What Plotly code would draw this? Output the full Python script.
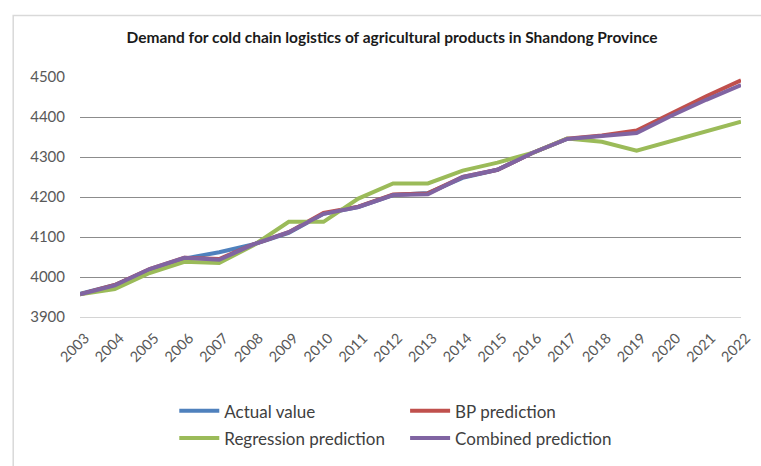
import plotly.graph_objects as go

years = [str(y) for y in range(2003, 2023)]

actual_value = [3958, 3980, 4018, 4046, 4062, 4082, 4110, 4158, 4175, 4205,
                4210, 4248, 4268, 4310, 4345]
bp_prediction = [3957, 3980, 4020, 4048, 4045, 4082, 4112, 4160, 4176, 4206,
                 4209, 4250, 4268, 4310, 4346, 4354, 4366, 4410, 4452, 4492]
regression_prediction = [3957, 3970, 4010, 4038, 4035, 4080, 4138, 4138, 4196, 4234,
                         4234, 4266, 4286, 4310, 4346, 4338, 4316, 4340, 4364, 4388]
combined_prediction = [3957, 3979, 4020, 4048, 4043, 4082, 4112, 4158, 4175, 4205,
                       4207, 4250, 4268, 4310, 4345, 4352, 4360, 4403, 4443, 4480]

y_ticks = [3900, 4000, 4100, 4200, 4300, 4400, 4500]

series = [
    ("Actual value", actual_value, "#4F81BD", "legend"),
    ("BP prediction", bp_prediction, "#C0504D", "legend2"),
    ("Regression prediction", regression_prediction, "#9BBB59", "legend"),
    ("Combined prediction", combined_prediction, "#8064A2", "legend2"),
]

FONT = "Lato"

fig = go.Figure()
for name, vals, color, leg in series:
    fig.add_trace(go.Scatter(
        x=years[:len(vals)], y=vals, name=name, mode="lines",
        line=dict(color=color, width=4),
        legend=leg, legendgroup=name,
    ))

legend_style = dict(
    orientation="v", xanchor="left", yanchor="top",
    font=dict(family=FONT, size=17, color="#404040"),
    bgcolor="rgba(0,0,0,0)", tracegroupgap=2, itemwidth=40,
)

fig.update_layout(
    width=761, height=466,
    margin=dict(l=80, r=8, t=77, b=149),
    paper_bgcolor="white", plot_bgcolor="white",
    title=dict(
        text="<b>Demand for cold chain logistics of agricultural products in Shandong Province</b>",
        x=392 / 761, xanchor="center", y=1 - 38 / 466, yanchor="middle",
        font=dict(family=FONT, size=15.5, color="#1a1a1a"),
    ),
    xaxis=dict(
        type="category", tickangle=-45, showgrid=False,
        showline=True, linecolor="#D4D4D4", linewidth=1,
        ticks="", ticklabelstandoff=6, ticklabelshift=5,
        tickfont=dict(family=FONT, size=14.5, color="#595959"),
    ),
    yaxis=dict(
        range=[3900, 4500], tickvals=y_ticks, showgrid=True,
        gridcolor="#8C8C8C", gridwidth=1, zeroline=False, showline=False,
        ticks="", ticklabelstandoff=14,
        tickfont=dict(family=FONT, size=15, color="#595959"),
    ),
    legend=dict(x=(176 - 80) / 673, y=-0.318, **legend_style),
    legend2=dict(x=(411 - 80) / 673, y=-0.318, **legend_style),
    shapes=[dict(
        type="rect", xref="paper", yref="paper",
        x0=(12 - 80) / 673, x1=(775 - 80) / 673,
        y0=(317.3 - 480) / 240.6, y1=(317.3 - 15) / 240.6,
        line=dict(color="#D9D9D9", width=1.5), layer="below",
    )],
)

fig.write_html("out.html")
